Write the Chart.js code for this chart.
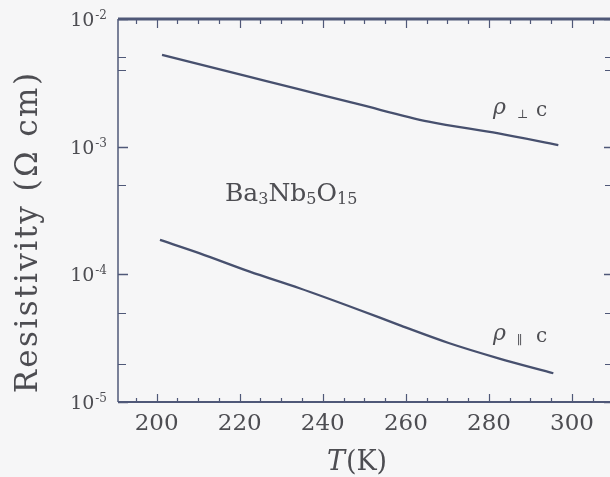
<!DOCTYPE html>
<html>
<head>
<meta charset="utf-8">
<script src="https://cdn.jsdelivr.net/npm/chart.js@4.4.1/dist/chart.umd.min.js"></script>
<style>
  html, body { margin: 0; padding: 0; background: #f6f6f7; overflow: hidden; }
  canvas { display: block; }
</style>
</head>
<body>
<canvas id="c" width="610" height="477"></canvas>
<script>
// ---- data ----
const T_PERP   = [201.3, 222.4, 234.4, 248.8, 265.5, 282.3, 296.7];
const RHO_PERP = [5.23e-3, 3.52e-3, 2.81e-3, 2.14e-3, 1.57e-3, 1.27e-3, 1.03e-3];
const T_PAR    = [200.8, 210.4, 222.4, 234.4, 248.8, 258.3, 270.3, 282.3, 295.5];
const RHO_PAR  = [1.86e-4, 1.46e-4, 1.05e-4, 7.78e-5, 5.26e-5, 4.02e-5, 2.90e-5, 2.20e-5, 1.68e-5];
const X_TICK_LABELS = [200, 220, 240, 260, 280, 300];
const X_MINOR_STEP = 5;
const Y_DECADES = [1e-2, 1e-3, 1e-4, 1e-5];
const Y_EXPONENTS = ['-2', '-3', '-4', '-5'];
const Y_MINOR = [5e-3, 4e-3, 5e-4, 5e-5, 2e-5];
const SERIES_SYMBOLS = ['\u22A5', '\u2225'];

const SERIF = '"DejaVu Serif", "Liberation Serif", serif';
const TEXT = '#4d4d52';
const AXIS = '#4f5878';
const LINE = '#47506e';

function drawRuns(ctx, runs, x, y, align) {
  let w = 0;
  runs.forEach(r => { ctx.font = r.font; r.w = ctx.measureText(r.t).width + (r.gap || 0); w += r.w; });
  let cx = align === 'center' ? x - w / 2 : (align === 'right' ? x - w : x);
  ctx.textAlign = 'left';
  ctx.textBaseline = 'alphabetic';
  runs.forEach(r => { ctx.font = r.font; ctx.fillText(r.t, cx, y + (r.dy || 0)); cx += r.w; });
}

const decor = {
  id: 'decor',
  beforeDraw(chart) {
    const ctx = chart.ctx;
    ctx.save();
    ctx.fillStyle = '#f6f6f7';
    ctx.fillRect(0, 0, chart.width, chart.height);
    ctx.restore();
  },
  afterDraw(chart) {
    const ctx = chart.ctx;
    const xs = chart.scales.x, ys = chart.scales.y;
    const a = chart.chartArea;
    const R = chart.width;
    ctx.save();
    ctx.strokeStyle = AXIS;
    // frame
    ctx.lineWidth = 1.5;
    ctx.beginPath();
    ctx.moveTo(a.left, a.top); ctx.lineTo(a.left, a.bottom);
    ctx.stroke();
    ctx.lineWidth = 2;
    ctx.beginPath(); ctx.moveTo(a.left, a.bottom); ctx.lineTo(R, a.bottom); ctx.stroke();
    ctx.lineWidth = 3;
    ctx.beginPath(); ctx.moveTo(a.left, a.top); ctx.lineTo(R, a.top); ctx.stroke();

    // x ticks (inward, top and bottom)
    ctx.lineWidth = 1.2;
    for (let t = Math.ceil(xs.min / X_MINOR_STEP) * X_MINOR_STEP; t <= xs.max; t += X_MINOR_STEP) {
      const px = Math.round(xs.getPixelForValue(t)) + 0.5;
      const major = X_TICK_LABELS.includes(t);
      const len = major ? 8 : 4;
      ctx.beginPath();
      ctx.moveTo(px, a.bottom); ctx.lineTo(px, a.bottom - len);
      ctx.moveTo(px, a.top); ctx.lineTo(px, a.top + len + 1);
      ctx.stroke();
    }
    // y ticks (inward, left and right)
    ctx.lineWidth = 1.5;
    Y_DECADES.forEach(v => {
      const py = Math.round(ys.getPixelForValue(v)) + 0.5;
      ctx.beginPath();
      ctx.moveTo(a.left, py); ctx.lineTo(a.left + 10, py);
      ctx.moveTo(R, py); ctx.lineTo(R - 6, py);
      ctx.stroke();
    });
    ctx.lineWidth = 1.2;
    Y_MINOR.forEach(v => {
      const py = Math.round(ys.getPixelForValue(v)) + 0.5;
      ctx.beginPath();
      ctx.moveTo(a.left, py); ctx.lineTo(a.left + 8, py);
      ctx.moveTo(R, py); ctx.lineTo(R - 5, py);
      ctx.stroke();
    });

    ctx.fillStyle = TEXT;
    // x tick labels
    ctx.font = '23px ' + SERIF;
    ctx.textAlign = 'center';
    ctx.textBaseline = 'alphabetic';
    X_TICK_LABELS.forEach(t => {
      ctx.fillText(String(t), xs.getPixelForValue(t), a.bottom + 28);
    });
    // y tick labels 10^n
    Y_DECADES.forEach((v, i) => {
      const py = ys.getPixelForValue(v);
      drawRuns(ctx, [
        { t: '10', font: '19px ' + SERIF, gap: 1 },
        { t: Y_EXPONENTS[i], font: '12px ' + SERIF, dy: -7 }
      ], 107, py + 7, 'right');
    });
    // x title
    drawRuns(ctx, [
      { t: 'T', font: 'italic 27px ' + SERIF, gap: 1 },
      { t: '(K)', font: '27px ' + SERIF }
    ], 357, 470, 'center');
    // y title
    ctx.save();
    ctx.translate(37, 232);
    ctx.rotate(-Math.PI / 2);
    ctx.font = '31px ' + SERIF;
    try { ctx.letterSpacing = '2.4px'; } catch (e) {}
    ctx.textAlign = 'center';
    ctx.textBaseline = 'alphabetic';
    ctx.fillText('Resistivity (\u03A9 cm)', 0, 0);
    try { ctx.letterSpacing = '0px'; } catch (e) {}
    ctx.restore();
    // compound label
    drawRuns(ctx, [
      { t: 'Ba', font: '25px ' + SERIF },
      { t: '3', font: '16px ' + SERIF, dy: 3 },
      { t: 'Nb', font: '25px ' + SERIF },
      { t: '5', font: '16px ' + SERIF, dy: 3 },
      { t: 'O', font: '25px ' + SERIF },
      { t: '15', font: '16px ' + SERIF, dy: 3 }
    ], 225, 201, 'left');
    // series labels
    [116, 342].forEach((y, i) => {
      ctx.textAlign = 'left';
      ctx.font = 'italic 22px ' + SERIF;
      ctx.fillText('\u03C1', 493, y - 2);
      ctx.font = '12px ' + SERIF;
      ctx.fillText(SERIES_SYMBOLS[i], 517, y + 2);
      ctx.font = '20px ' + SERIF;
      ctx.fillText('c', 536, y);
    });
    ctx.restore();
  }
};

const toPts = (xs, ys) => xs.map((x, i) => ({ x, y: ys[i] }));

new Chart(document.getElementById('c'), {
  type: 'line',
  data: {
    datasets: [
      { label: '\u03C1 \u22A5c', data: toPts(T_PERP, RHO_PERP), borderColor: LINE, borderWidth: 2.3, pointRadius: 0, cubicInterpolationMode: 'monotone', fill: false },
      { label: '\u03C1 \u2225c', data: toPts(T_PAR, RHO_PAR), borderColor: LINE, borderWidth: 2.3, pointRadius: 0, cubicInterpolationMode: 'monotone', fill: false }
    ]
  },
  options: {
    responsive: false,
    animation: false,
    devicePixelRatio: 1,
    layout: { padding: { left: 118, right: 1, top: 19, bottom: 75 } },
    plugins: { legend: { display: false }, tooltip: { enabled: false } },
    scales: {
      x: { type: 'linear', min: 190.7, max: 308.9, display: false },
      y: { type: 'logarithmic', min: 1e-5, max: 1e-2, display: false }
    }
  },
  plugins: [decor]
});
</script>
</body>
</html>
